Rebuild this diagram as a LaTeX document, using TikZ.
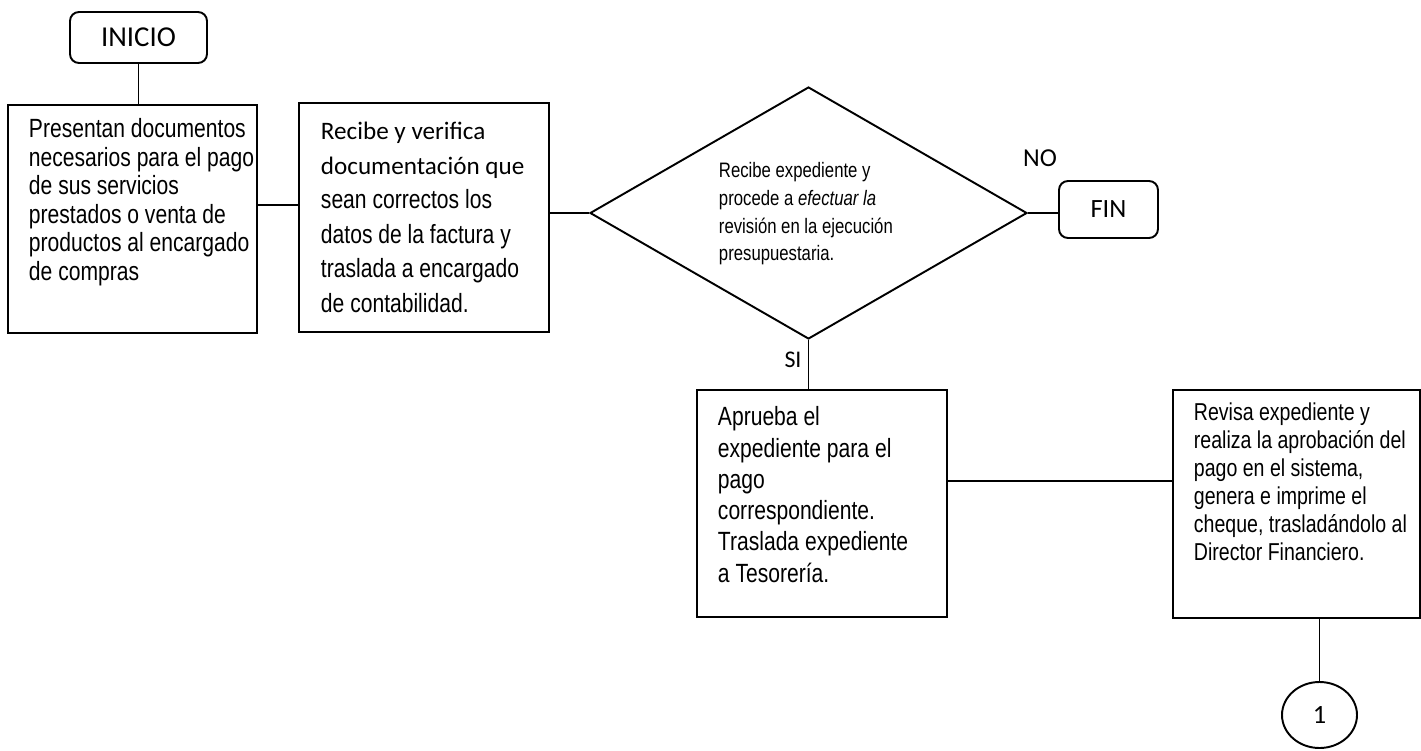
\documentclass[tikz,border=0pt]{standalone}
\usepackage{fontspec}
\setmainfont{Liberation Sans}
\newfontfamily\narrowsans[FakeStretch=0.8]{Liberation Sans}
\newfontfamily\calib{Carlito}
\newcommand{\arialline}{\narrowsans\fontsize{15}{19.6}\selectfont}
\usetikzlibrary{shapes.geometric,calc}

\begin{document}
\begin{tikzpicture}[line width=1.1pt,
    terminal/.style={draw, rounded corners=0.18cm, inner sep=0pt},
    stepbox/.style={draw, inner sep=0pt},
    steptext/.style={anchor=north west, inner sep=0pt, align=left},
    tag/.style={inner sep=0pt}]
  \useasboundingbox (0.000,0.000) rectangle (28.420,-15.000);
  \node[terminal, minimum width=2.740cm, minimum height=1.020cm, font=\calib\fontsize{16.4}{19}\selectfont] (inicio) at (2.770,-0.750) {INICIO};
  \node[stepbox, minimum width=4.980cm, minimum height=4.560cm] (presentan) at (2.650,-4.380) {};
  \node[steptext, font=\narrowsans\fontsize{15}{16.2}\selectfont] (presentantxt) at (0.560,-2.340) {\strut Presentan documentos\\necesarios para el pago\\de sus servicios\\prestados o venta de\\productos al encargado\\de compras};
  \node[stepbox, minimum width=5.000cm, minimum height=4.580cm] (recibe) at (8.480,-4.350) {};
  \node[steptext, font=\calib\fontsize{14.3}{19.6}\selectfont] (recibetxt) at (6.400,-2.296) {\strut Recibe y verifica\\documentación que\\\arialline sean correctos los\\\arialline datos de la factura y\\\arialline traslada a encargado\\\arialline de contabilidad.};
  \node[diamond, draw, minimum width=8.740cm, minimum height=5.040cm, inner sep=0pt] (revision) at (16.170,-4.260) {};
  \node[steptext, font=\narrowsans\fontsize{11.9}{15.7}\selectfont] (revisiontxt) at (14.360,-3.152) {\strut Recibe expediente y\\procede a \textit{efectuar la}\\revisión en la ejecución\\presupuestaria.};
  \node[tag, font=\calib\fontsize{14.7}{17}\selectfont] (no) at (20.800,-3.160) {NO};
  \node[terminal, minimum width=1.980cm, minimum height=1.140cm, font=\calib\fontsize{15}{18}\selectfont] (fin) at (22.170,-4.190) {FIN};
  \node[tag, font=\calib\fontsize{13.6}{16}\selectfont] (si) at (15.860,-7.200) {SI};
  \node[stepbox, minimum width=5.000cm, minimum height=4.540cm] (aprueba) at (16.440,-10.070) {};
  \node[steptext, font=\narrowsans\fontsize{15}{17.8}\selectfont] (apruebatxt) at (14.340,-8.060) {\strut Aprueba el\\expediente para el\\pago\\correspondiente.\\Traslada expediente\\a Tesorería.};
  \node[stepbox, minimum width=4.940cm, minimum height=4.560cm] (revisa) at (25.930,-10.080) {};
  \node[steptext, font=\narrowsans\fontsize{13.9}{15.9}\selectfont] (revisatxt) at (23.860,-8.008) {\strut Revisa expediente y\\realiza la aprobación del\\pago en el sistema,\\genera e imprime el\\cheque, trasladándolo al\\Director Financiero.};
  \node[ellipse, draw, minimum width=1.500cm, minimum height=1.320cm, inner sep=0pt, font=\calib\fontsize{15}{18}\selectfont] (uno) at (26.390,-14.300) {1};
  \draw (inicio.south) -- (inicio.south |- presentan.north);
  \coordinate (j1) at ($(presentan.north east)!0.44!(presentan.south east)$);
  \draw (j1) -- (j1 -| recibe.west);
  \draw (recibe.east |- revision.west) -- (revision.west);
  \draw (revision.east) -- (revision.east -| fin.west);
  \draw (revision.south) -- (revision.south |- aprueba.north);
  \coordinate (j2) at ($(aprueba.north east)!0.40!(aprueba.south east)$);
  \draw (j2) -- (j2 -| revisa.west);
  \draw (uno.north) -- (uno.north |- revisa.south);
\end{tikzpicture}
\end{document}
